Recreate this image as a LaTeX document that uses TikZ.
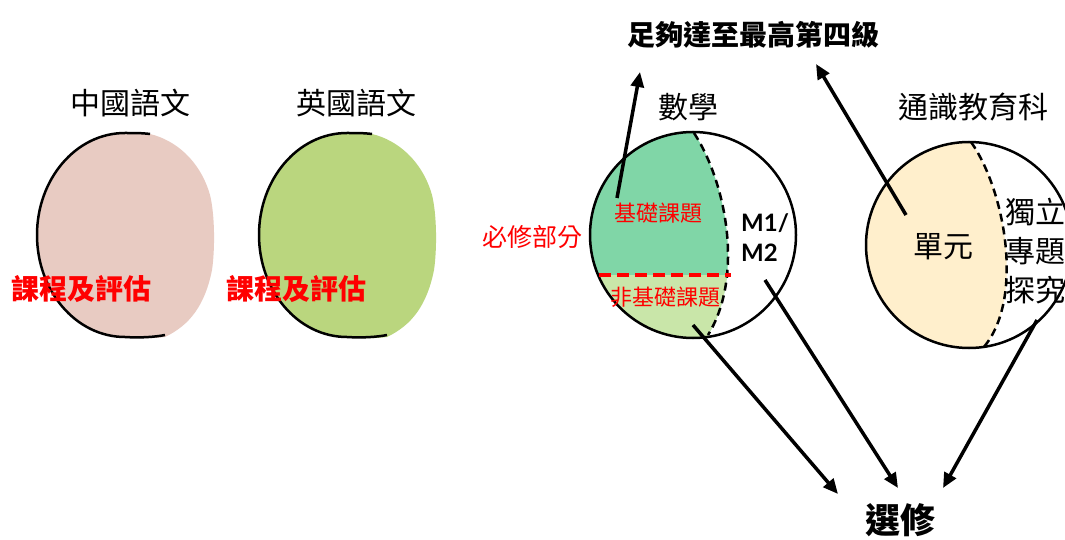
\documentclass[tikz,border=0pt]{standalone}
\usepackage{fontspec}
\usetikzlibrary{arrows.meta}
\newfontfamily\cjk{Noto Sans CJK TC}
\newfontfamily\latf{Lato}
\definecolor{pinkfill}{HTML}{E8CBC2}
\definecolor{engfill}{HTML}{BAD67E}
\definecolor{darkgreen}{HTML}{80D6A7}
\definecolor{lightgreen}{HTML}{C9E6A9}
\definecolor{yellowfill}{HTML}{FFEFCC}
\definecolor{redtxt}{HTML}{FF0000}
\tikzset{
  title/.style={font=\cjk\fontsize{30}{34}\selectfont, inner sep=0pt},
  redbold/.style={font=\cjk\bfseries\fontsize{28}{32}\selectfont, text=redtxt, inner sep=0pt},
  redlabel/.style={font=\cjk\fontsize{22}{26}\selectfont, text=redtxt, inner sep=0pt},
  outline/.style={draw=black, line width=2.5pt},
  dashcurve/.style={draw=black, line width=2.5pt, dash pattern=on 8pt off 5pt},
  arr/.style={line width=3.5pt, -{Triangle[length=15pt,width=13pt]}},
  boldbig/.style={font=\cjk\bfseries\fontsize{28}{32}\selectfont, inner sep=0pt},
}
\begin{document}
\begin{tikzpicture}[x=1pt,y=-1pt]
\useasboundingbox (0,0) rectangle (1065,540);
\fill[white] (0,0) rectangle (1065,540);

% ---------- 中國語文 ----------
\fill[pinkfill] (150,134) .. controls (175,140) and (200,160) .. (210,195)
  .. controls (215,215) and (215,250) .. (212,270)
  .. controls (205,305) and (190,325) .. (165,337)
  .. controls (150,339) and (135,338) .. (125,337)
  .. controls (76,337) and (37,291) .. (37,235)
  .. controls (37,179) and (76,133) .. (125,133)
  .. controls (135,133) and (142,133) .. (150,134) -- cycle;
\draw[outline] (150,134) .. controls (142,133) and (135,133) .. (125,133)
  .. controls (76,133) and (37,179) .. (37,235)
  .. controls (37,291) and (76,337) .. (125,337)
  .. controls (140,338) and (155,337) .. (165,335);
\node[title] (chi) at (130,103) {中國語文};
\node[redbold, anchor=west] (chiassess) at (11,289) {課程及評估};

% ---------- 英國語文 ----------
\fill[engfill] (372,134) .. controls (397,140) and (422,160) .. (432,195)
  .. controls (437,215) and (437,250) .. (434,270)
  .. controls (427,305) and (412,325) .. (387,337)
  .. controls (372,339) and (357,338) .. (347,337)
  .. controls (298,337) and (259,291) .. (259,235)
  .. controls (259,179) and (298,133) .. (347,133)
  .. controls (357,133) and (364,133) .. (372,134) -- cycle;
\draw[outline] (372,134) .. controls (364,133) and (357,133) .. (347,133)
  .. controls (298,133) and (259,179) .. (259,235)
  .. controls (259,291) and (298,337) .. (347,337)
  .. controls (362,338) and (377,337) .. (387,335);
\node[title] (eng) at (356,103) {英國語文};
\node[redbold, anchor=west] (engassess) at (226,289) {課程及評估};

% ---------- 數學 ----------
\begin{scope}
  \clip (693,235) circle (103pt);
  \fill[darkgreen] (694,120) -- (694,133) .. controls (725,180) and (745,275) .. (708,335) -- (708,350) -- (580,350) -- (580,120) -- cycle;
  \clip (694,120) -- (694,133) .. controls (725,180) and (745,275) .. (708,335) -- (708,350) -- (580,350) -- (580,120) -- cycle;
  \fill[lightgreen] (580,275) rectangle (760,350);
\end{scope}
\draw[outline] (693,235) circle (103pt);
\draw[dashcurve] (694,133) .. controls (725,180) and (745,275) .. (708,335);
\draw[draw=redtxt, line width=4pt, dash pattern=on 12pt off 6pt] (599,275) -- (731,275);
\node[title] (math) at (688,107) {數學};
\node[redlabel] (core) at (658,213) {基礎課題};
\node[redlabel] (noncore) at (665,297) {非基礎課題};
\node[font=\cjk\fontsize{25}{28}\selectfont, text=redtxt, inner sep=0pt] (compulsory) at (532,237) {必修部分};
\node[font=\latf\bfseries\fontsize{24}{30}\selectfont, align=left, anchor=west, inner sep=0pt] (m1m2) at (741,238) {M1/\\M2};

% ---------- 通識教育科 ----------
\begin{scope}
  \clip (969,245) circle (103pt);
  \fill[yellowfill] (971,130) -- (971,142) .. controls (1005,190) and (1025,300) .. (983,348) -- (983,360) -- (850,360) -- (850,130) -- cycle;
\end{scope}
\draw[outline] (969,245) circle (103pt);
\draw[dashcurve] (971,142) .. controls (1005,190) and (1025,300) .. (983,348);
\node[title] (ls) at (973,107) {通識教育科};
\node[title] (unit) at (943,247) {單元};
\node[title, anchor=west, align=left, font=\cjk\fontsize{30}{39}\selectfont] (ies) at (1005,251) {獨立\\專題\\探究};

% ---------- top / bottom labels ----------
\node[boldbig] (level4) at (753,35) {足夠達至最高第四級};
\node[font=\cjk\bfseries\fontsize{35}{40}\selectfont, inner sep=0pt] (elective) at (900,520) {選修};

% ---------- arrows ----------
\coordinate (a1s) at (617,198); \coordinate (a1e) at (640,72);
\coordinate (a2s) at (906,215); \coordinate (a2e) at (816,64);
\coordinate (a3s) at (693,325); \coordinate (a3e) at (838,494);
\coordinate (a4s) at (765,280); \coordinate (a4e) at (898,488);
\coordinate (a5s) at (1037,320); \coordinate (a5e) at (943,488);
\draw[arr] (a1s) -- (a1e);
\draw[arr] (a2s) -- (a2e);
\draw[arr] (a3s) -- (a3e);
\draw[arr] (a4s) -- (a4e);
\draw[arr] (a5s) -- (a5e);
\end{tikzpicture}
\end{document}
